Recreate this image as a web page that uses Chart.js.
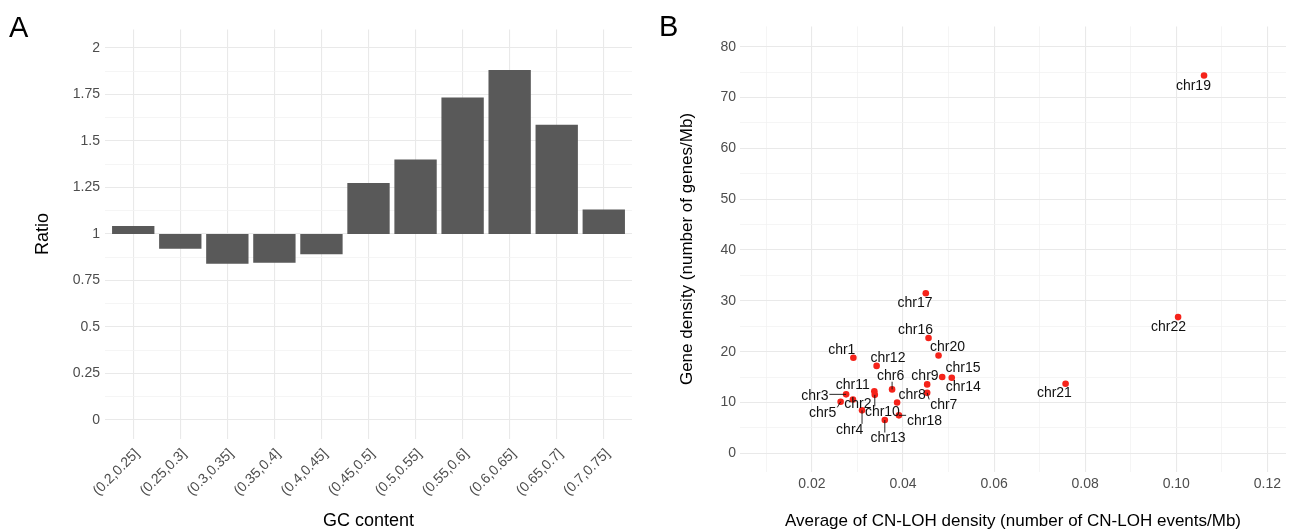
<!DOCTYPE html>
<html>
<head>
<meta charset="utf-8">
<script src="https://cdn.jsdelivr.net/npm/chart.js@4.4.1/dist/chart.umd.min.js"></script>
<style>
  html, body { margin: 0; padding: 0; background: #fff; width: 1290px; height: 532px; overflow: hidden; }
  .panel { position: absolute; top: 0; height: 532px; }
  #wrapA { left: 0; width: 640px; }
  #wrapB { left: 640px; width: 650px; }
  .tag { position: absolute; font-family: "Liberation Sans", Arial, sans-serif; font-size: 29px; line-height: 1; color: #000; }
</style>
</head>
<body>
<div class="panel" id="wrapA"><canvas id="chartA" width="640" height="532"></canvas></div>
<div class="panel" id="wrapB"><canvas id="chartB" width="650" height="532"></canvas></div>
<div class="tag" style="left:9px; top:13px;">A</div>
<div class="tag" style="left:659px; top:12px;">B</div>

<script>
// --- Panel A data: GC content bins vs ratio (bars start at ratio = 1) ---
const gcBins = ['(0.2,0.25]', '(0.25,0.3]', '(0.3,0.35]', '(0.35,0.4]', '(0.4,0.45]', '(0.45,0.5]',
                '(0.5,0.55]', '(0.55,0.6]', '(0.6,0.65]', '(0.65,0.7]', '(0.7,0.75]'];
const gcRatio = [1.043, 0.921, 0.840, 0.845, 0.891, 1.274, 1.401, 1.734, 1.882, 1.587, 1.132];
const ratioBaseline = 1;
const ratioTicks = [0, 0.25, 0.5, 0.75, 1, 1.25, 1.5, 1.75, 2];
const ratioTickLabels = ['0', '0.25', '0.5', '0.75', '1', '1.25', '1.5', '1.75', '2'];

// --- Panel B data: CN-LOH density vs gene density per chromosome ---
const chrNames = ['chr1', 'chr2', 'chr3', 'chr4', 'chr5', 'chr6', 'chr7', 'chr8', 'chr9', 'chr10', 'chr11',
                  'chr12', 'chr13', 'chr14', 'chr15', 'chr16', 'chr17', 'chr18', 'chr19', 'chr20', 'chr21', 'chr22'];
const cnlohDensity = [0.0291, 0.0290, 0.0275, 0.0310, 0.0263, 0.0376, 0.0453, 0.0387, 0.0453, 0.0338, 0.0337,
                      0.0342, 0.0360, 0.0507, 0.0486, 0.0456, 0.0450, 0.0391, 0.1061, 0.0478, 0.0757, 0.1004];
const geneDensity = [18.8, 10.6, 11.6, 8.45, 10.15, 12.57, 11.9, 10.0, 13.56, 11.5, 12.2,
                     17.2, 6.55, 14.87, 15.0, 22.7, 31.5, 7.47, 74.35, 19.25, 13.7, 26.8];
const cnlohTicks = [0.02, 0.04, 0.06, 0.08, 0.10, 0.12];
const cnlohTickLabels = ['0.02', '0.04', '0.06', '0.08', '0.10', '0.12'];
const geneTicks = [0, 10, 20, 30, 40, 50, 60, 70, 80];
const geneTickLabels = ['0', '10', '20', '30', '40', '50', '60', '70', '80'];

// label placement (pixel offset from point, draw leader line) - repel-style layout
const labelOffsets = [
  [-11.6, -7.7, 0], [5, 4.5, 0], [-31.3, 1.8, 1], [-12.3, 19.5, 1], [-18, 11.7, 1], [-1.5, -13.7, 1],
  [16.6, 12.6, 1], [15, -7.2, 0], [-2.2, -7.8, 0], [7.6, 17.5, 1], [-21.6, -5.7, 0], [11.3, -7.3, 0],
  [3.3, 18.5, 1], [11.5, 9.5, 0], [20.8, -8.7, 0], [-13, -7.5, 0], [-10.8, 9.7, 0], [25.7, 6, 1],
  [-10.6, 10.4, 0], [9, -8.2, 0], [-11.2, 9.7, 0], [-9.5, 9.7, 0]
];

const FONT = '"Liberation Sans", Arial, Helvetica, sans-serif';
const GRID_MAJOR = 'rgb(233,233,233)';
const GRID_MINOR = 'rgb(243,243,243)';
const TICK_COLOR = '#4d4d4d';

Chart.defaults.font.family = FONT;
Chart.defaults.animation = false;

// major + minor (midpoint) tick objects
function withMinor(major) {
  const out = [];
  major.forEach((v, i) => {
    out.push({ value: v, major: true });
    if (i < major.length - 1) out.push({ value: (v + major[i + 1]) / 2, major: false });
  });
  return out;
}
function majorLabel(ticks, labels) {
  return function(value) {
    const i = ticks.findIndex(t => Math.abs(t - value) < 1e-9);
    return i >= 0 ? labels[i] : '';
  };
}
const gridOpts = {
  color: ctx => (ctx.tick && ctx.tick.major === false) ? GRID_MINOR : GRID_MAJOR,
  lineWidth: ctx => (ctx.tick && ctx.tick.major === false) ? 0.8 : 1.1,
  drawTicks: false
};

// --- Panel A: ratio bars ---
new Chart(document.getElementById('chartA'), {
  type: 'bar',
  data: {
    datasets: [{
      data: gcRatio.map((v, i) => ({ x: i, y: [ratioBaseline, v] })),
      backgroundColor: '#595959',
      borderWidth: 0,
      barPercentage: 0.9,
      categoryPercentage: 1.0
    }]
  },
  options: {
    responsive: false,
    layout: { padding: { left: 32, right: 8, top: 29.4, bottom: 0 } },
    plugins: { legend: { display: false }, tooltip: { enabled: false } },
    scales: {
      x: {
        type: 'linear',
        min: -0.6,
        max: 10.6,
        offset: false,
        afterBuildTicks: s => { s.ticks = gcBins.map((b, i) => ({ value: i, major: true })); },
        afterFit: s => { s.height = 532 - 438.6; },
        grid: Object.assign({}, gridOpts, { offset: false }),
        border: { display: false },
        ticks: {
          autoSkip: false, minRotation: 45, maxRotation: 45, padding: 7, labelOffset: 4,
          color: TICK_COLOR, font: { size: 14 },
          callback: v => gcBins[v]
        },
        title: { display: true, text: 'GC content', color: '#000', font: { size: 18 }, padding: 0 }
      },
      y: {
        min: -0.1,
        max: 2.1,
        afterBuildTicks: s => { s.ticks = withMinor(ratioTicks); },
        afterFit: s => { s.width = 105 - 32; },
        grid: gridOpts,
        border: { display: false },
        ticks: { autoSkip: false, padding: 5, color: TICK_COLOR, font: { size: 14 },
                 callback: majorLabel(ratioTicks, ratioTickLabels) },
        title: { display: true, text: 'Ratio', color: '#000', font: { size: 18 }, padding: 0 }
      }
    }
  }
});

// --- Panel B: scatter with chromosome labels ---
const chrLabelPlugin = {
  id: 'chrLabels',
  afterDatasetsDraw(chart) {
    const ctx = chart.ctx;
    const meta = chart.getDatasetMeta(0);
    ctx.save();
    ctx.font = '14px ' + FONT;
    ctx.fillStyle = '#111';
    ctx.strokeStyle = '#111';
    ctx.lineWidth = 0.9;
    ctx.textAlign = 'center';
    ctx.textBaseline = 'middle';
    meta.data.forEach((pt, i) => {
      const [dx, dy, seg] = labelOffsets[i];
      const lx = pt.x + dx, ly = pt.y + dy;
      if (seg) {
        const w = ctx.measureText(chrNames[i]).width / 2 + 1;
        const h = 6;
        const ex = Math.min(Math.max(pt.x, lx - w), lx + w);
        const ey = Math.min(Math.max(pt.y, ly - h), ly + h);
        ctx.beginPath();
        ctx.moveTo(pt.x, pt.y);
        ctx.lineTo(ex, ey);
        ctx.stroke();
      }
      ctx.fillText(chrNames[i], lx, ly);
    });
    ctx.restore();
  }
};

new Chart(document.getElementById('chartB'), {
  type: 'scatter',
  data: {
    datasets: [{
      data: cnlohDensity.map((x, i) => ({ x: x, y: geneDensity[i] })),
      pointRadius: 3.3,
      pointBackgroundColor: '#f5231a',
      pointBorderWidth: 0
    }]
  },
  plugins: [chrLabelPlugin],
  options: {
    responsive: false,
    layout: { padding: { left: 37.5, right: 0, top: 26.4, bottom: 0 } },
    plugins: { legend: { display: false }, tooltip: { enabled: false } },
    scales: {
      x: {
        type: 'linear',
        min: 0.0042,
        max: 0.1241,
        afterBuildTicks: s => { s.ticks = withMinor(cnlohTicks.concat([0.14])).filter(t => t.value < 0.1241); s.ticks.unshift({ value: 0.01, major: false }); },
        afterFit: s => { s.height = 532 - 471.6; },
        grid: gridOpts,
        border: { display: false },
        ticks: { autoSkip: false, maxRotation: 0, padding: 4, color: TICK_COLOR, font: { size: 14 },
                 callback: majorLabel(cnlohTicks, cnlohTickLabels) },
        title: { display: true, text: 'Average of CN-LOH density (number of CN-LOH events/Mb)',
                 color: '#000', font: { size: 17 }, padding: 0 }
      },
      y: {
        min: -3.6,
        max: 84,
        afterBuildTicks: s => { s.ticks = withMinor(geneTicks); },
        afterFit: s => { s.width = 100 - 37.5; },
        grid: gridOpts,
        border: { display: false },
        ticks: { autoSkip: false, padding: 4, color: TICK_COLOR, font: { size: 14 },
                 callback: majorLabel(geneTicks, geneTickLabels) },
        title: { display: true, text: 'Gene density (number of genes/Mb)', color: '#000', font: { size: 17 }, padding: 0 }
      }
    }
  }
});
</script>
</body>
</html>
